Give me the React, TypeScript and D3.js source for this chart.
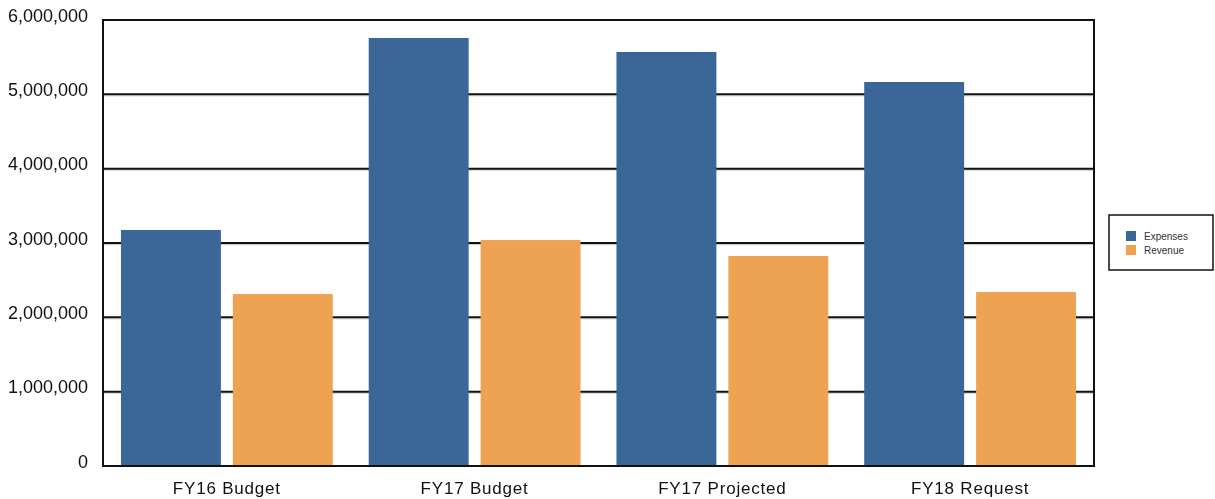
import * as d3 from "d3";
import { useEffect, useRef } from "react";

const categories = ["FY16 Budget", "FY17 Budget", "FY17 Projected", "FY18 Request"];
const seriesNames = ["Expenses", "Revenue"];
const expenses = [3175000, 5758000, 5570000, 5166000];
const revenue = [2314000, 3040000, 2825000, 2340000];
const yTicks = [0, 1000000, 2000000, 3000000, 4000000, 5000000, 6000000];

const colors: { [key: string]: string } = {
  Expenses: "#3a6698",
  Revenue: "#eea353",
};

export default function App() {
  const svgRef = useRef<SVGSVGElement | null>(null);

  useEffect(() => {
    if (!svgRef.current) return;
    d3.select(svgRef.current).selectAll("*").remove();

    const width = 1215;
    const height = 499;
    const margin = { top: 20, right: 121, bottom: 33, left: 103 };
    const w = width - margin.left - margin.right;
    const h = height - margin.top - margin.bottom;

    const svg = d3.select(svgRef.current)
      .attr("width", width)
      .attr("height", height)
      .style("display", "block")
      .style("font-family", "Liberation Sans, Arial, sans-serif");

    const chart = svg.append("g").attr("transform", `translate(${margin.left}, ${margin.top})`);

    const x0 = d3.scaleBand().domain(categories).range([0, w]).paddingInner(0.145).paddingOuter(0.0725);
    const x1 = d3.scaleBand().domain(seriesNames).range([0, x0.bandwidth()]).paddingInner(0.107);
    const y = d3.scaleLinear().domain([0, 6000000]).range([h, 0]);

    // gridlines (black line with a light shadow underneath)
    chart.append("g")
      .selectAll("line")
      .data(yTicks.slice(1, -1))
      .enter()
      .append("line")
      .attr("x1", 0)
      .attr("x2", w)
      .attr("y1", (d) => y(d) + 1.5)
      .attr("y2", (d) => y(d) + 1.5)
      .attr("stroke", "#c8c8c8")
      .attr("stroke-width", 1);
    chart.append("g")
      .selectAll("line")
      .data(yTicks.slice(1, -1))
      .enter()
      .append("line")
      .attr("x1", 0)
      .attr("x2", w)
      .attr("y1", (d) => y(d))
      .attr("y2", (d) => y(d))
      .attr("stroke", "#111")
      .attr("stroke-width", 2);

    const rows = categories.map((c, i) => ({ cat: c, values: [expenses[i], revenue[i]] }));

    chart.append("g")
      .selectAll("g")
      .data(rows)
      .enter()
      .append("g")
      .attr("transform", (d) => `translate(${x0(d.cat)}, 0)`)
      .selectAll("rect")
      .data((d) => d.values.map((v, j) => ({ key: seriesNames[j], value: v })))
      .enter()
      .append("rect")
      .attr("x", (d) => x1(d.key)!)
      .attr("width", x1.bandwidth())
      .attr("y", (d) => y(d.value))
      .attr("height", (d) => h - y(d.value))
      .attr("fill", (d) => colors[d.key]);

    // frame
    chart.append("rect")
      .attr("x", 0)
      .attr("y", 0)
      .attr("width", w)
      .attr("height", h)
      .attr("fill", "none")
      .attr("stroke", "#111")
      .attr("stroke-width", 2);

    // y labels
    chart.append("g")
      .selectAll("text")
      .data(yTicks)
      .enter()
      .append("text")
      .attr("x", -15)
      .attr("y", (d) => y(d))
      .attr("dy", "0.1em")
      .attr("text-anchor", "end")
      .style("font-size", "18px")
      .attr("fill", "#111")
      .text((d) => d3.format(",")(d));

    // x labels
    chart.append("g")
      .selectAll("text")
      .data(categories)
      .enter()
      .append("text")
      .attr("x", (d) => x0(d)! + x0.bandwidth() / 2)
      .attr("y", h + 28)
      .attr("text-anchor", "middle")
      .style("font-size", "17px")
      .style("letter-spacing", "0.8px")
      .attr("fill", "#111")
      .text((d) => d);

    // legend
    const legend = svg.append("g").attr("transform", "translate(1109, 215)");
    legend.append("rect")
      .attr("width", 104)
      .attr("height", 55)
      .attr("fill", "#fff")
      .attr("stroke", "#111")
      .attr("stroke-width", 1.5);
    seriesNames.forEach((s, i) => {
      legend.append("rect")
        .attr("x", 17)
        .attr("y", 16 + i * 14)
        .attr("width", 10)
        .attr("height", 10)
        .attr("fill", colors[s]);
      legend.append("text")
        .attr("x", 35)
        .attr("y", 25 + i * 14)
        .style("font-size", "10px")
        .attr("fill", "#333")
        .text(s);
    });
  }, []);

  return (
    <div style={{ position: "fixed", left: 0, top: 0 }}>
      <svg ref={svgRef}></svg>
    </div>
  );
}
